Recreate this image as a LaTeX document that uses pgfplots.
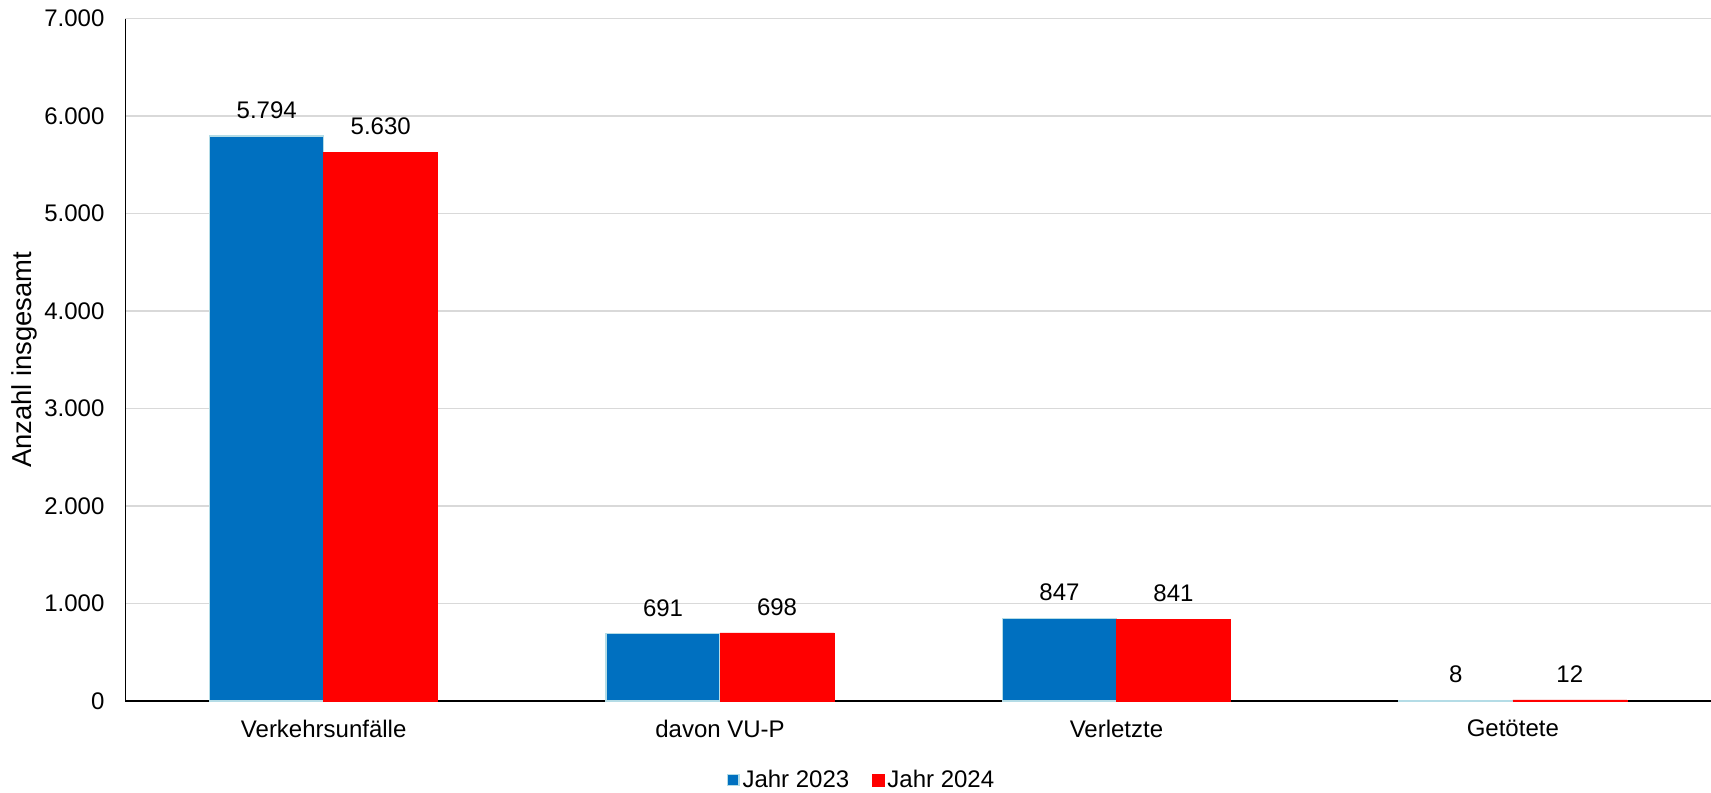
\documentclass[border=0pt]{standalone}
\usepackage{pgfplots}
\pgfplotsset{compat=1.18}
\usepackage{fontspec}
\setmainfont{Liberation Sans}
\definecolor{blau}{HTML}{0070C0}
\definecolor{rot}{HTML}{FF0000}
\definecolor{rand}{HTML}{B4DCE6}
\definecolor{gitter}{HTML}{D9D9D9}
\begin{document}
\begin{tikzpicture}
\begin{axis}[
  scale only axis,
  width=792.75pt, height=341.25pt,
  xmin=-0.5, xmax=3.5,
  ymin=0, ymax=7000,
  ytick={0,1000,...,7000},
  xtick={0,1,2,3},
  xticklabels={Verkehrsunfälle, davon VU-P, Verletzte, Getötete},
  axis lines*=left,
  axis line style={black, line width=0.9pt},
  major tick length=0pt,
  ymajorgrids=true,
  grid style={gitter, line width=0.75pt},
  scaled y ticks=false,
  /pgf/number format/.cd, 1000 sep={.}, assume math mode=true,
  /pgfplots/.cd,
  ticklabel style={font=\fontsize{12}{14}\selectfont},
  yticklabel style={xshift=-7pt},
  xticklabel style={yshift=-6pt},
  ylabel={Anzahl insgesamt},
  every axis y label/.style={at={(rel axis cs:0,0.5)}, xshift=-50.5pt, rotate=90, anchor=center, font=\fontsize{13.7}{16}\selectfont},
  ybar=0pt,
  bar width=0.2876,
  nodes near coords,
  every node near coord/.append style={font=\fontsize{12}{14}\selectfont, black, yshift=5pt},
  legend columns=2,
  legend style={at={(rel axis cs:0.4645,0)}, anchor=center, yshift=-39.5pt, draw=none,
    font=\fontsize{12}{14}\selectfont,
    /tikz/every even column/.append style={column sep=10pt},
    nodes={inner sep=1.5pt}},
  legend image code/.code={\draw[#1] (0pt,-2.9pt) rectangle (5.8pt,2.9pt);},
]
\addplot[fill=blau, draw=rand, line width=0.6pt, bar shift=-0.1438]
  coordinates {(0,5794) (1,691) (2,847) (3,8)};
\addplot[fill=rot, draw=rot, line width=0.3pt, bar shift=0.1438]
  coordinates {(0,5630) (1,698) (2,841) (3,12)};
\legend{Jahr 2023, Jahr 2024}
\end{axis}
\pgfresetboundingbox
\path (-62.75pt,-45.5pt) rectangle (792.75pt,350.5pt);
\end{tikzpicture}
\end{document}
